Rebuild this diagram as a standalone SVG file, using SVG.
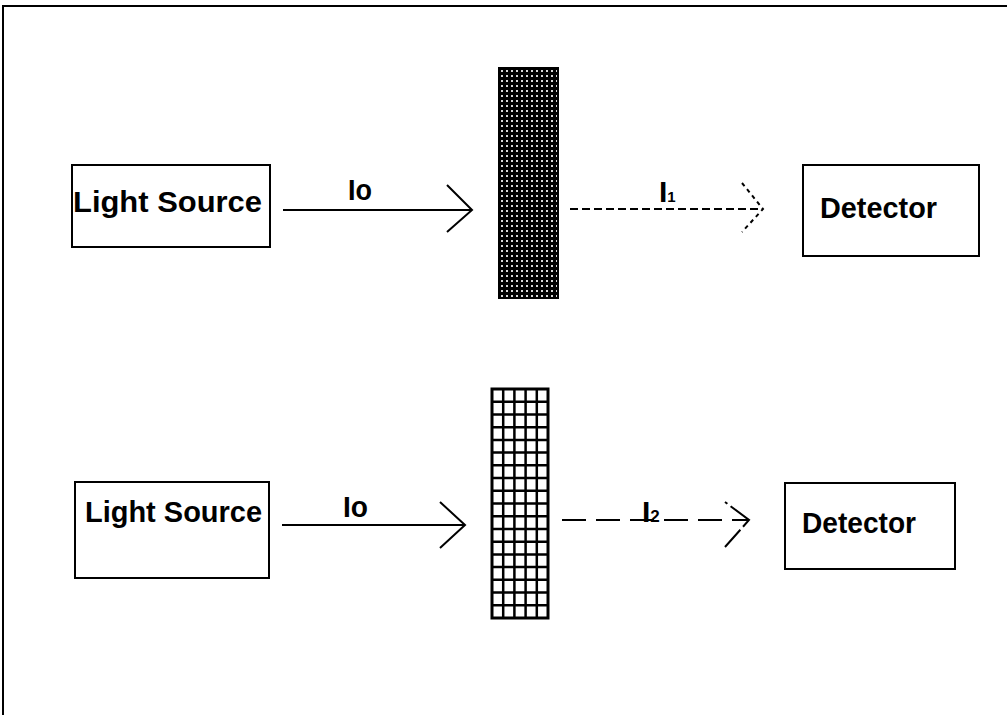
<svg xmlns="http://www.w3.org/2000/svg" width="1007" height="715" viewBox="0 0 1007 715">
<style>
.box{fill:#fff;stroke:#000;stroke-width:2}
.lbl{font-family:"Liberation Sans",Arial,sans-serif;font-weight:bold;fill:#000}
.ln{fill:none;stroke:#000;stroke-width:2}
</style>
<defs>
<pattern id="dots" x="499" y="68" width="5" height="5" patternUnits="userSpaceOnUse">
<rect width="5" height="5" fill="#000"/>
<rect x="2" y="2" width="2" height="2" fill="#d8d8d8"/>
</pattern>
</defs>
<rect width="1007" height="715" fill="#fff"/>
<g id="frame">
<path d="M3,715 V6 H1007" fill="none" stroke="#000" stroke-width="2"/>
</g>
<g id="light-source-1">
<rect class="box" x="72" y="165" width="198" height="82"/>
<text class="lbl" x="73" y="212" font-size="29" textLength="189" lengthAdjust="spacingAndGlyphs">Light Source</text>
</g>
<g id="filter-1">
<rect x="499" y="68" width="59" height="230" fill="url(#dots)" stroke="#000" stroke-width="2"/>
</g>
<g id="detector-1">
<rect class="box" x="803" y="165" width="176" height="91"/>
<text class="lbl" x="820" y="218" font-size="30" textLength="117" lengthAdjust="spacingAndGlyphs">Detector</text>
</g>
<g id="light-source-2">
<rect class="box" x="75" y="482" width="194" height="96"/>
<text class="lbl" x="85" y="522" font-size="29" textLength="177" lengthAdjust="spacingAndGlyphs">Light Source</text>
</g>
<g id="filter-2">
<rect x="492" y="389" width="56" height="229" fill="#fff" stroke="#000" stroke-width="3"/>
<path d="M503.2,389V618M514.4,389V618M525.6,389V618M536.8,389V618M492,401.7H548M492,414.4H548M492,427.2H548M492,439.9H548M492,452.6H548M492,465.3H548M492,478.1H548M492,490.8H548M492,503.5H548M492,516.2H548M492,528.9H548M492,541.7H548M492,554.4H548M492,567.1H548M492,579.8H548M492,592.6H548M492,605.3H548" stroke="#000" stroke-width="2.5" fill="none"/>
</g>
<g id="detector-2">
<rect class="box" x="785" y="483" width="170" height="86"/>
<text class="lbl" x="802" y="533" font-size="30" textLength="114" lengthAdjust="spacingAndGlyphs">Detector</text>
</g>
<g id="connectors">
<path class="ln" d="M283,210 H472"/>
<path class="ln" d="M447,185 L472,210 L447,232"/>
<text class="lbl" x="348" y="200" font-size="30" textLength="24" lengthAdjust="spacingAndGlyphs">Io</text>
<path class="ln" d="M570,209 H763" stroke-dasharray="8 4"/>
<path class="ln" d="M742,183 L763,209 L742,232" stroke-dasharray="4 4"/>
<text class="lbl" x="659" y="202" font-size="30">I<tspan font-size="15">1</tspan></text>
<path class="ln" d="M562,520 H749" stroke-dasharray="24 10"/>
<path class="ln" d="M282,525 H465"/>
<path class="ln" d="M440,502 L465,525 L440,548"/>
<text class="lbl" x="343" y="517" font-size="30" textLength="25" lengthAdjust="spacingAndGlyphs">Io</text>
<path class="ln" d="M725,502 L749,520 L725,547" stroke-dasharray="3 4 32 4 30"/>
<text class="lbl" x="642" y="522" font-size="30">I<tspan font-size="17">2</tspan></text>
</g>
</svg>
